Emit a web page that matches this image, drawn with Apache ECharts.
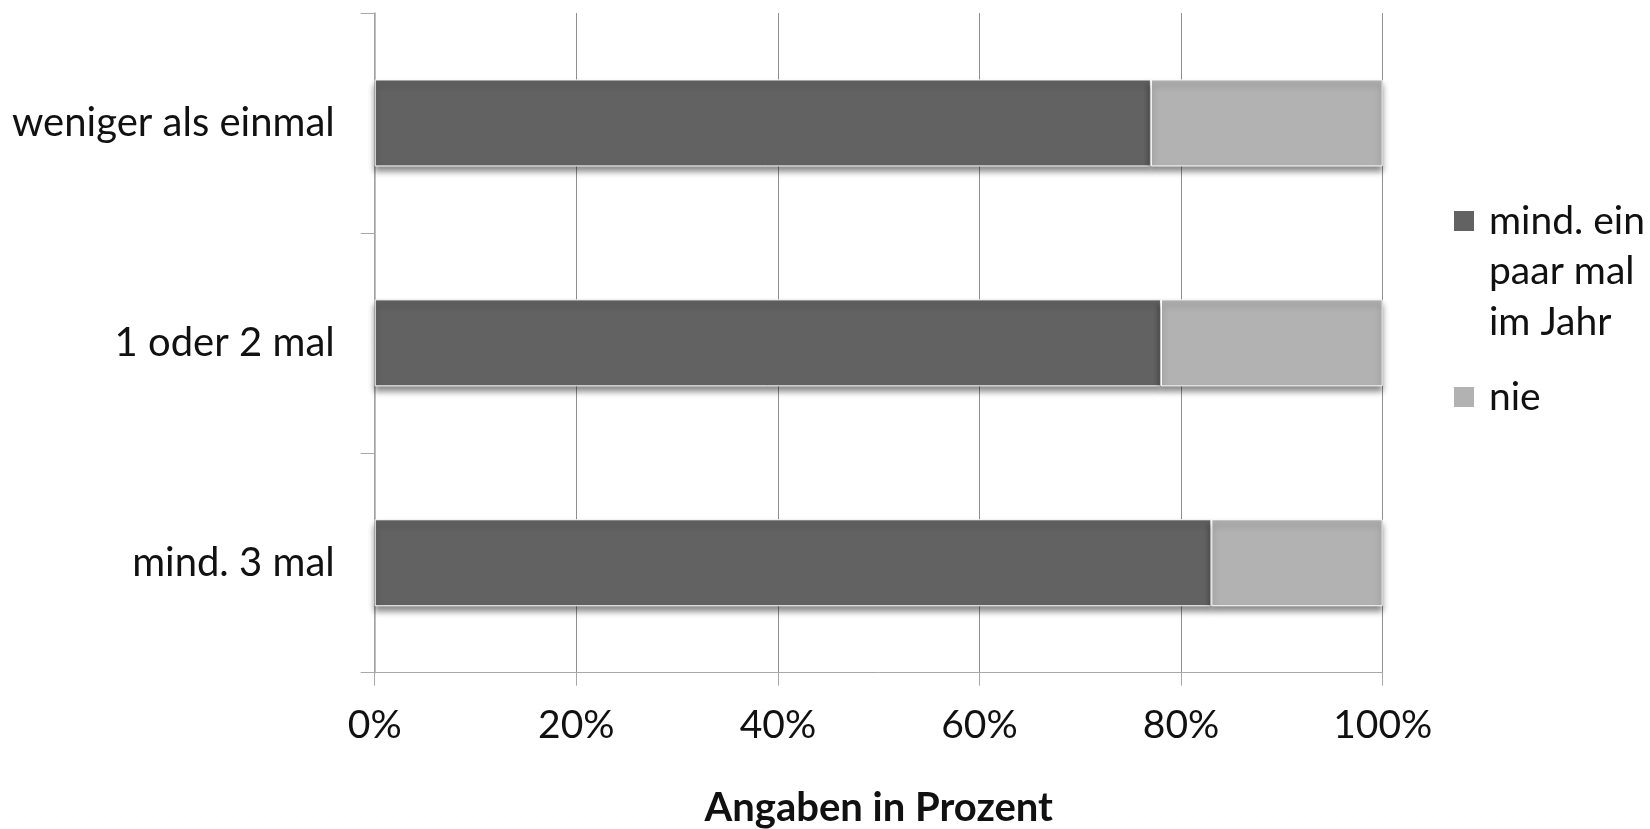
<!DOCTYPE html>
<html>
<head>
<meta charset="utf-8">
<script src="https://cdn.jsdelivr.net/npm/echarts@6/dist/echarts.min.js"></script>
<style>
  html, body { margin: 0; padding: 0; background: #fff; }
  #chart { width: 1650px; height: 829px; }
</style>
</head>
<body>
<div id="chart"></div>
<script>
// Häufigkeit (Kategorien, von oben nach unten)
const categories = ['weniger als einmal', '1 oder 2 mal', 'mind. 3 mal'];
// Anteile in Prozent je Antwort
const seriesNames = ['mind. ein paar mal im Jahr', 'nie'];
const mindEinPaarMal = [77, 78, 83];
const nie = [23, 22, 17];
const xTicks = [0, 20, 40, 60, 80, 100];
const axisTitle = 'Angaben in Prozent';

const FONT = 'Lato';
const LINE_H = 50.5;

const chart = echarts.init(document.getElementById('chart'), null, { renderer: 'canvas' });

const barStyle = color => ({
  color: color,
  borderColor: '#ffffff',
  borderWidth: 1,
  shadowColor: 'rgba(0,0,0,0.45)',
  shadowBlur: 6,
  shadowOffsetY: 5
});

// legend label: wrapped over three lines; two empty lines on top keep
// the square level with the first line
const legendLabel = name => name === seriesNames[0]
  ? '\n\n{t|mind. ein}\n{t|paar mal}\n{t|im Jahr}'
  : '{t|' + name + '}';

chart.setOption({
  animation: false,
  backgroundColor: '#ffffff',
  textStyle: { fontFamily: FONT },
  grid: {
    left: 374.7, right: 267.3, top: 13, bottom: 156.3,
    containLabel: false,
    outerBoundsMode: 'none'
  },
  legend: {
    orient: 'vertical',
    left: 1452,
    top: 94.75,
    padding: 0,
    itemGap: 24.5,
    itemWidth: 22,
    itemHeight: 22,
    icon: 'rect',
    data: seriesNames,
    formatter: legendLabel,
    textStyle: {
      fontFamily: FONT,
      fontSize: 39,
      color: '#111',
      lineHeight: LINE_H,
      rich: {
        t: { fontFamily: FONT, fontSize: 39, color: '#111', lineHeight: LINE_H, padding: [0, 0, 0, 9] }
      }
    },
    selectedMode: false
  },
  xAxis: {
    type: 'value',
    min: 0,
    max: 100,
    interval: 20,
    name: axisTitle,
    nameLocation: 'middle',
    nameGap: 115,
    nameTextStyle: { fontFamily: FONT, fontSize: 40, fontWeight: 'bold', color: '#111' },
    axisLine: { show: true, lineStyle: { color: '#a8a8a8', width: 1 } },
    axisTick: { show: true, length: 13, lineStyle: { color: '#a8a8a8', width: 1 } },
    axisLabel: {
      fontFamily: FONT, fontSize: 39, color: '#111', margin: 33,
      formatter: v => xTicks.indexOf(v) >= 0 ? v + '%' : ''
    },
    splitLine: { show: true, lineStyle: { color: '#8f8f8f', width: 1 } }
  },
  yAxis: {
    type: 'category',
    inverse: true,
    data: categories,
    axisLine: { show: true, lineStyle: { color: '#a8a8a8', width: 1.5 } },
    axisTick: { show: true, length: 14, alignWithLabel: false, lineStyle: { color: '#a8a8a8', width: 1 } },
    axisLabel: { fontFamily: FONT, fontSize: 40, color: '#111', margin: 40 },
    splitLine: { show: false }
  },
  series: [
    {
      name: seriesNames[0],
      type: 'bar',
      stack: 'gesamt',
      barWidth: 87,
      data: mindEinPaarMal,
      itemStyle: barStyle('#626262')
    },
    {
      name: seriesNames[1],
      type: 'bar',
      stack: 'gesamt',
      barWidth: 87,
      data: nie,
      itemStyle: barStyle('#b2b2b2')
    }
  ]
});
</script>
</body>
</html>
